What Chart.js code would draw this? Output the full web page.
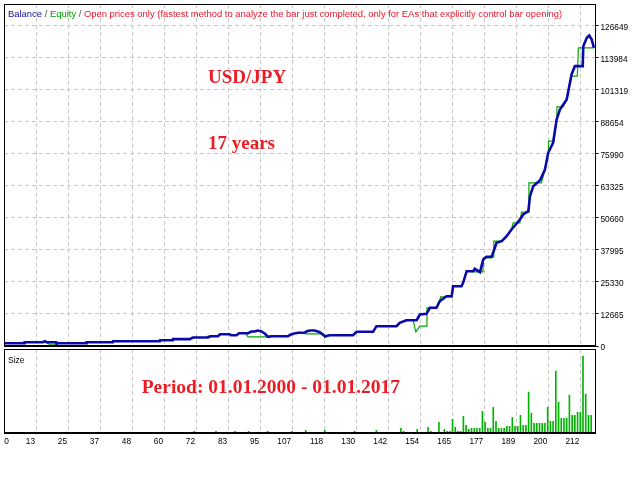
<!DOCTYPE html>
<html>
<head>
<meta charset="utf-8">
<script src="https://cdn.jsdelivr.net/npm/chart.js@4.4.1/dist/chart.umd.min.js"></script>
<style>
  body { margin: 0; background: #fff; }
  #wrap { position: relative; width: 640px; height: 480px; background: #fff; }
  canvas { position: absolute; left: 0; }
  #main { top: 0; }
  #size { top: 348px; }
</style>
</head>
<body>
<div id="wrap">
  <canvas id="main" width="640" height="356"></canvas>
  <canvas id="size" width="640" height="132"></canvas>
</div>
<script>
// balance curve, x = trade number, y = account balance
const balanceX = [0, 7.5, 7.6, 14.3, 15, 15.6, 19.2, 19.3, 30.3, 30.4, 40, 40.1, 57.3, 57.4, 62.1, 62.2, 68.3, 69.5, 75, 76,
  78.7, 79.5, 83, 83.5, 85.5, 86.5, 89.8, 91, 92.2, 93.3, 94.7, 95.9, 97.1, 98.4, 104.5, 105, 106.3, 108.2, 110.6, 111.2,
  112.5, 114.3, 116.2, 118, 119.8, 128.4, 129.7, 135.8, 137, 144.4, 145.6, 148, 151.8, 153, 155.4, 156.7, 159.1, 160.3, 162.8, 164.7,
  165.2, 168.3, 168.9, 170.2, 172.6, 173.2, 175.1, 176.3, 177.5, 179.4, 181.2, 183.1, 184.9, 186.7, 188.6, 189.8, 191, 192.9, 193.5, 194.7,
  197.2, 199, 200.2, 202, 203.3, 204.5, 207, 208.8, 210, 212.9, 213.1, 214.4, 215.3, 216.2, 217];
const balanceY = [1100, 1100, 1500, 1500, 1900, 1500, 1500, 1100, 1100, 1500, 1500, 1900, 1900, 2300, 2300, 2700, 2700, 3360, 3360, 3870,
  3870, 4660, 4660, 4270, 4270, 5060, 5060, 5730, 5730, 6130, 5730, 4940, 3640, 3870, 3870, 4270, 4820, 5220, 5220, 5730,
  6130, 6130, 5450, 3870, 4270, 4270, 5610, 5610, 7830, 7830, 9170, 10200, 10200, 12450, 12720, 15100, 15100, 17700, 19680, 19680,
  23630, 23630, 24980, 29560, 29560, 30510, 29170, 34180, 35250, 35250, 40780, 41420, 43390, 46040, 48410, 49990, 51970, 53270, 59200, 63150,
  65500, 69750, 76350, 80300, 89510, 93460, 97410, 107300, 110580, 110580, 118480, 121800, 122700, 121130, 117850];

// equity curve, x = trade number, y = equity
const equityX = [0, 7.5, 7.6, 14.3, 15, 15.6, 16.5, 19.2, 19.3, 30.3, 30.4, 40, 40.1, 57.3, 57.4, 62.1, 62.2, 68.3, 69.5, 74.5,
  75, 78.7, 79.5, 83, 83.5, 85.5, 86.5, 88.8, 89.8, 97.1, 98.4, 104.5, 105, 106.3, 108.2, 110.6, 111, 117.5, 118, 119.8,
  128.4, 129.7, 135.8, 137, 144.4, 145.6, 148, 150.5, 151.5, 153, 155.4, 155.6, 159.1, 160.3, 160.6, 164.7, 165.2, 168.3, 168.9, 170.2,
  173.2, 176.2, 176.4, 179.4, 180.1, 180.2, 183.1, 184.9, 186.7, 187.3, 189.8, 190.4, 192.9, 193.1, 197.7, 199, 200.2, 200.3, 202.3, 203.3,
  203.4, 205.7, 207, 208.6, 210.9, 211.3, 217];
const equityY = [1100, 1100, 1500, 1500, 1900, 1500, 700, 700, 1100, 1100, 1500, 1500, 1900, 1900, 2300, 2300, 2700, 2700, 3360, 3360,
  3870, 3870, 4660, 4660, 4270, 4270, 5060, 5060, 3640, 3640, 3870, 3870, 4270, 4820, 5220, 5220, 4820, 4820, 3240, 4270,
  4270, 5610, 5610, 7830, 7830, 9170, 10200, 10200, 5610, 7830, 7830, 15100, 15100, 17700, 19440, 19440, 23630, 23630, 24980, 29560,
  29320, 29320, 34850, 34850, 35250, 41420, 41420, 43390, 46040, 48690, 48690, 52880, 52880, 64500, 64500, 69750, 76350, 80940, 80940, 89510,
  94530, 94530, 97410, 106630, 106630, 117850, 117850];

// lot size per trade
const sizeX = [70, 78, 85, 90, 97, 98, 106, 111, 112, 117, 118, 119, 129, 137, 138, 146, 147, 150, 152, 153,
  156, 157, 160, 162, 163, 164, 165, 166, 167, 168, 169, 170, 171, 172, 173, 174, 175, 176, 177, 178,
  179, 180, 181, 182, 183, 184, 185, 186, 187, 188, 189, 190, 191, 192, 193, 194, 195, 196, 197, 198,
  199, 200, 201, 202, 203, 204, 205, 206, 207, 208, 209, 210, 211, 212, 213, 214, 215, 216];
const sizeLots = [0.2, 0.2, 0.2, 0.2, 0.2, 0.1, 0.2, 0.3, 0.1, 0.1, 0.3, 0.1, 0.2, 0.3, 0.1, 0.5, 0.2, 0.1, 0.4, 0.1,
  0.6, 0.2, 1.1, 0.4, 0.2, 0.2, 1.4, 0.6, 0.2, 0.2, 1.7, 0.8, 0.4, 0.5, 0.5, 0.5, 0.5, 2.2, 1.1, 0.5,
  0.5, 2.6, 1.2, 0.5, 0.5, 0.5, 0.7, 0.7, 1.6, 0.7, 0.7, 1.8, 0.8, 0.8, 4.1, 2.0, 1.0, 1.0, 1.0, 1.0,
  1.0, 2.6, 1.2, 1.2, 6.2, 3.1, 1.5, 1.5, 1.5, 3.8, 1.8, 1.8, 2.1, 2.1, 7.7, 3.9, 1.8, 1.8];

const yTicks = [0, 12665, 25330, 37995, 50660, 63325, 75990, 88654, 101319, 113984, 126649];
const xTickLabels = [0, 13, 25, 37, 48, 60, 72, 83, 95, 107, 118, 130, 142, 154, 165, 177, 189, 200, 212];

const xGridStep = 212 / 18;   // trades between two vertical grid lines
const xMax = 217.6;
const yMax = 135150;
const sizeMax = 8.4;
const firstLabelAt = 2.2;     // the "0" label sits inside the frame

const GRID = '#c8c8c8';
const SMALL = "'Liberation Sans', Arial, sans-serif";
const SERIF = "'Liberation Serif', 'Times New Roman', serif";
const RED = '#ec1c24';

const legendParts = [
  ['Balance', '#10109a'],
  [' / ', '#505050'],
  ['Equity', '#00a000'],
  [' / ', '#505050'],
  ['Open prices only (fastest method to analyze the bar just completed, only for EAs that explicitly control bar opening)', '#e8182c'],
];

const frame = {
  id: 'frame',
  afterDraw(chart) {
    const { ctx, chartArea: a } = chart;
    ctx.save();
    ctx.strokeStyle = '#000';
    ctx.lineWidth = 1;
    const l = Math.round(a.left) + 0.5, t = Math.round(a.top) + 0.5;
    ctx.strokeRect(l, t, Math.round(a.right) - 0.5 - l, Math.round(a.bottom) - 0.5 - t);
    ctx.restore();
  }
};

const mainText = {
  id: 'mainText',
  afterDraw(chart) {
    const ctx = chart.ctx;
    ctx.save();
    ctx.textBaseline = 'alphabetic';
    ctx.font = `10px ${SMALL}`;
    const full = legendParts.map(p => p[0]).join('');
    const fs = 10 * 555 / ctx.measureText(full).width;
    ctx.font = `${fs}px ${SMALL}`;
    let x = 8;
    for (const [text, color] of legendParts) {
      ctx.fillStyle = color;
      ctx.fillText(text, x, 16.5);
      x += ctx.measureText(text).width;
    }
    ctx.fillStyle = RED;
    ctx.font = `bold 19px ${SERIF}`;
    ctx.fillText('USD/JPY', 208, 82.7);
    ctx.fillText('17 years', 208, 149.3);
    ctx.restore();
  }
};

const sizeText = {
  id: 'sizeText',
  afterDraw(chart) {
    const ctx = chart.ctx;
    ctx.save();
    ctx.fillStyle = '#000';
    ctx.font = `8.5px ${SMALL}`;
    ctx.fillText('Size', 8, 15);
    ctx.fillStyle = RED;
    ctx.font = `bold 19.5px ${SERIF}`;
    ctx.fillText('Period: 01.01.2000 - 01.01.2017', 141.7, 45.3);
    ctx.restore();
  }
};

const gridTicks = s => { s.ticks = xTickLabels.map((_, i) => ({ value: i * xGridStep })); };
const noPad = s => { s.paddingLeft = 0; s.paddingRight = 0; s.paddingTop = 0; s.paddingBottom = 0; };

new Chart(document.getElementById('main'), {
  type: 'line',
  data: {
    datasets: [
      {
        label: 'Balance',
        data: balanceX.map((x, i) => ({ x, y: balanceY[i] })),
        borderColor: '#0a0aaa',
        borderWidth: 2.6,
        pointRadius: 0,
        tension: 0,
      },
      {
        label: 'Equity',
        data: equityX.map((x, i) => ({ x, y: equityY[i] })),
        borderColor: '#00a800',
        borderWidth: 1.2,
        pointRadius: 0,
        tension: 0,
      },
    ],
  },
  options: {
    responsive: false,
    animation: false,
    events: [],
    layout: { padding: { left: 4, top: 4, right: 0, bottom: 10 } },
    plugins: { legend: { display: false }, tooltip: { enabled: false } },
    scales: {
      x: {
        type: 'linear', min: 0, max: xMax, offset: false,
        afterBuildTicks: gridTicks,
        afterFit: s => { s.height = 0; noPad(s); },
        ticks: { display: false },
        grid: { color: GRID, drawTicks: false },
        border: { color: '#000', dash: [4, 3] },
      },
      y: {
        position: 'right', min: 0, max: yMax,
        afterBuildTicks: s => { s.ticks = yTicks.map(v => ({ value: v })); },
        afterFit: s => { s.width = 44.5; noPad(s); },
        ticks: { color: '#000', font: { family: SMALL, size: 8.3 }, padding: 2, labelOffset: 2, callback: v => String(v) },
        grid: { color: GRID, tickColor: '#000', tickLength: 3, tickBorderDash: [] },
        border: { color: '#000', dash: [4, 3] },
      },
    },
  },
  plugins: [frame, mainText],
});

new Chart(document.getElementById('size'), {
  type: 'bar',
  data: {
    datasets: [{
      label: 'Size',
      data: sizeX.map((x, i) => ({ x, y: sizeLots[i] })),
      backgroundColor: '#00b400',
      barThickness: 1,
    }],
  },
  options: {
    responsive: false,
    animation: false,
    events: [],
    layout: { padding: { left: 4, top: 1, right: 44.5, bottom: 0 } },
    plugins: { legend: { display: false }, tooltip: { enabled: false } },
    scales: {
      x: {
        type: 'linear', min: 0, max: xMax, weight: 0, offset: false,
        afterBuildTicks: gridTicks,
        afterFit: s => { s.height = 0; noPad(s); },
        ticks: { display: false },
        grid: { color: GRID, drawTicks: false, offset: false },
        border: { color: '#000', dash: [4, 3] },
      },
      x2: {
        type: 'linear', position: 'bottom', min: 0, max: xMax, weight: 1, offset: false,
        afterBuildTicks: s => { s.ticks = xTickLabels.map((_, i) => ({ value: i === 0 ? firstLabelAt : i * xGridStep })); },
        afterFit: s => { s.height = 46.7; noPad(s); },
        grid: { display: false, drawTicks: false, offset: false },
        border: { display: false },
        ticks: {
          color: '#000', font: { family: SMALL, size: 8.3 }, padding: 3,
          align: 'end', labelOffset: -1, autoSkip: false, maxRotation: 0,
          callback: (v, i) => String(xTickLabels[i]),
        },
      },
      y: { display: false, min: 0, max: sizeMax, afterFit: noPad },
    },
  },
  plugins: [frame, sizeText],
});
</script>
</body>
</html>
